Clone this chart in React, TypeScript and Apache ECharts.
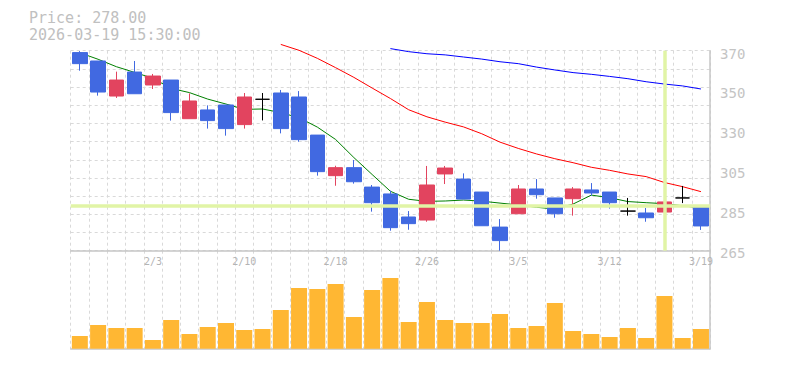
import React, { useEffect, useRef } from 'react';
import * as echarts from 'echarts';

const dates = ['1/28','1/29','1/30','2/2','2/3','2/4','2/5','2/6','2/9','2/10','2/12','2/13','2/16','2/17','2/18','2/19','2/20','2/24','2/25','2/26','2/27','3/2','3/3','3/4','3/5','3/6','3/9','3/10','3/11','3/12','3/13','3/16','3/17','3/18','3/19'];

const opens = [369.0, 364.6, 346.2, 358.8, 352.0, 354.6, 334.3, 338.9, 341.5, 331.2, 344.5, 347.8, 345.7, 325.7, 304.4, 308.6, 298.4, 294.8, 282.7, 281.1, 305.3, 302.6, 295.8, 277.4, 284.4, 297.4, 292.7, 292.3, 296.9, 295.8, 285.8, 284.8, 285.3, 292.7, 288.5];
const closes = [363.2, 348.3, 354.6, 347.4, 356.7, 337.5, 343.6, 333.3, 329.1, 345.7, 344.5, 329.1, 323.3, 306.5, 308.6, 301.2, 290.2, 277.1, 279.2, 299.5, 308.4, 292.1, 278.1, 270.3, 297.4, 294.4, 284.4, 297.4, 295.3, 290.2, 285.8, 282.3, 290.6, 292.7, 278.0];
const highs = [369.8, 364.6, 359.0, 364.6, 357.8, 354.6, 347.6, 341.3, 341.5, 347.8, 347.8, 349.4, 348.8, 325.7, 309.6, 312.6, 299.5, 296.5, 285.8, 309.5, 309.5, 305.6, 295.8, 281.6, 299.5, 302.6, 292.7, 298.4, 300.5, 295.8, 292.7, 287.4, 297.4, 299.0, 288.5];
const lows = [359.5, 346.4, 345.2, 347.4, 349.9, 333.3, 334.3, 329.1, 325.4, 329.1, 333.4, 326.6, 322.2, 304.4, 299.1, 300.2, 285.5, 275.5, 276.0, 280.2, 300.0, 292.1, 278.1, 265.0, 284.4, 292.3, 282.3, 283.4, 293.9, 287.1, 283.4, 280.2, 285.3, 290.0, 275.9];

const maShort = [368.9, 365.5, 361.6, 358.6, 355.5, 350.2, 348.0, 344.6, 342.0, 339.2, 339.4, 337.5, 334.8, 329.9, 323.4, 313.9, 305.0, 296.2, 292.0, 290.9, 291.1, 291.6, 291.0, 290.0, 289.0, 287.8, 286.9, 289.5, 294.2, 292.8, 290.8, 290.2, 289.7, 288.6, 287.3];
const maMid = [null, null, null, null, null, null, null, null, null, null, null, 373.3, 370.2, 366.0, 361.1, 356.0, 350.4, 344.9, 339.0, 335.3, 332.5, 330.0, 326.4, 322.0, 318.7, 315.8, 313.3, 311.2, 308.8, 307.2, 305.3, 303.9, 300.8, 298.6, 296.0];
const maLong = [null, null, null, null, null, null, null, null, null, null, null, null, null, null, null, null, null, 371.1, 369.5, 368.4, 367.8, 366.7, 365.6, 364.2, 363.2, 361.4, 359.9, 358.5, 357.6, 356.5, 355.3, 353.7, 352.5, 351.5, 349.9];

const volumes = [127, 237, 207, 207, 87, 287, 147, 217, 257, 187, 197, 387, 607, 597, 647, 317, 587, 707, 267, 467, 287, 257, 257, 347, 207, 227, 457, 177, 147, 117, 207, 107, 527, 107, 197];

const yTickLabels = ['265', '285', '305', '330', '350', '370'];
const priceMin = 265;
const priceMax = 370;
const volumeMax = 980;
const lastPrice = '278.00';
const lastTime = '2026-03-19 15:30:00';
const crossPrice = 288.4;
const crossDate = '3/17';

export default function App() {
  const ref = useRef<HTMLDivElement>(null);
  useEffect(() => {
    const chart = echarts.init(ref.current as HTMLDivElement, null, { renderer: 'svg' });
    const candles = dates.map((_, i) => [opens[i], closes[i], lows[i], highs[i]]);
    const mono = "'DejaVu Sans Mono', monospace";
    const grayLine = { show: true, lineStyle: { color: '#c6c6c6', width: 1.5 } };
    const dashed = { show: true, lineStyle: { color: '#d9d9d9', type: [3, 3], width: 1 } };
    const gridL = 70.7;
    const gridR = 785 - 710.1;

    chart.setOption({
      animation: false,
      graphic: [
        {
          type: 'text', left: 29, top: 10,
          style: { text: 'Price: ' + lastPrice + '\n' + lastTime, fill: '#c0c0c0', fontSize: 15, fontFamily: mono, lineHeight: 16.5 },
        },
      ],
      grid: [
        { left: gridL, right: gridR, top: 50.7, height: 200 },
        { left: gridL, right: gridR, top: 250.7, height: 98 },
        { left: gridL, right: gridR, top: 53.5, height: 199 },
      ],
      xAxis: [
        {
          type: 'category', gridIndex: 0, data: dates, boundaryGap: true,
          axisLine: grayLine, axisTick: { show: false },
          axisLabel: { show: true, interval: (i: number) => i % 5 === 4, margin: 6, color: '#b4b4b4', fontSize: 10, fontFamily: mono },
          splitLine: { ...dashed, interval: 0 },
        },
        {
          type: 'category', gridIndex: 1, data: dates, boundaryGap: true,
          axisLine: grayLine, axisTick: { show: false }, axisLabel: { show: false },
          splitLine: { ...dashed, interval: 0 },
        },
        { type: 'value', gridIndex: 2, min: 0, max: 1, show: false },
      ],
      yAxis: [
        { type: 'value', gridIndex: 0, min: priceMin, max: priceMax, show: false },
        {
          type: 'value', gridIndex: 0, min: 0, max: 11, interval: 1, position: 'right',
          axisLine: grayLine, axisTick: { show: false }, axisLabel: { show: false }, splitLine: dashed,
        },
        {
          type: 'value', gridIndex: 2, min: 0, max: 5, interval: 1, position: 'right',
          axisLine: { show: false }, axisTick: { show: false }, splitLine: { show: false },
          axisLabel: { formatter: (v: number) => yTickLabels[v], margin: 10, color: '#c4c4c4', fontSize: 14, fontFamily: mono },
        },
        {
          type: 'value', gridIndex: 1, min: 0, max: volumeMax, position: 'right',
          axisLine: grayLine, axisTick: { show: false }, axisLabel: { show: false }, splitLine: { show: false },
        },
      ],
      series: [
        {
          type: 'line', xAxisIndex: 0, yAxisIndex: 0, data: [], z: 1, silent: true,
          markLine: {
            silent: true, symbol: ['none', 'none'], label: { show: false },
            lineStyle: { color: '#e1f4a6', width: 3.5, type: 'solid' },
            data: [{ yAxis: crossPrice }, { xAxis: crossDate }],
          },
        },
        { type: 'line', xAxisIndex: 0, yAxisIndex: 0, data: maShort, symbol: 'none', clip: false, z: 2, lineStyle: { color: '#008000', width: 1 } },
        { type: 'line', xAxisIndex: 0, yAxisIndex: 0, data: maMid, symbol: 'none', clip: false, z: 2, lineStyle: { color: '#ff0000', width: 1 } },
        { type: 'line', xAxisIndex: 0, yAxisIndex: 0, data: maLong, symbol: 'none', clip: false, z: 2, lineStyle: { color: '#0000ff', width: 1 } },
        {
          type: 'candlestick', xAxisIndex: 0, yAxisIndex: 0, data: candles, barWidth: 15, z: 3, clip: false,
          itemStyle: {
            color: '#e2445f', color0: '#4169e1', borderColor: '#e2445f', borderColor0: '#4169e1',
            borderColorDoji: '#000000', borderWidth: 1,
          },
        },
        {
          type: 'bar', xAxisIndex: 1, yAxisIndex: 3, data: volumes, barWidth: 16,
          itemStyle: { color: '#ffb733' },
        },
      ],
    });
    return () => chart.dispose();
  }, []);
  return <div ref={ref} style={{ position: 'fixed', left: 0, top: 0, width: 785, height: 370, background: '#fff' }} />;
}
